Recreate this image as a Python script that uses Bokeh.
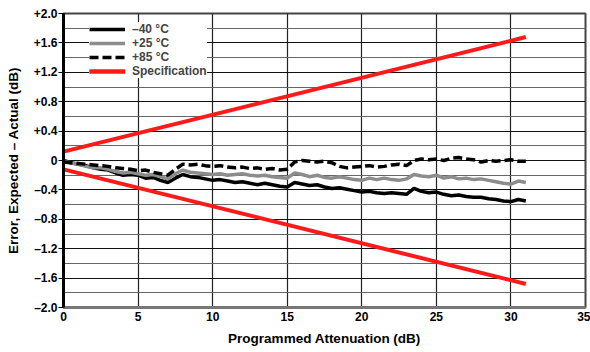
from bokeh.plotting import figure
from bokeh.models import Range1d, FixedTicker, Legend, LegendItem
from bokeh.embed import file_html
from bokeh.resources import INLINE

# ---- data ----
atten = [i * 0.5 for i in range(63)]  # 0 .. 31 dB
err_m40 = [0.0, -0.03, -0.05, -0.07, -0.1, -0.12, -0.13, -0.17, -0.2, -0.19,
           -0.2, -0.24, -0.23, -0.27, -0.3, -0.24, -0.19, -0.22, -0.23, -0.25,
           -0.27, -0.26, -0.28, -0.3, -0.29, -0.31, -0.33, -0.31, -0.33, -0.35,
           -0.36, -0.3, -0.32, -0.34, -0.33, -0.36, -0.38, -0.37, -0.39, -0.41,
           -0.43, -0.42, -0.44, -0.45, -0.44, -0.45, -0.46, -0.38, -0.42, -0.44,
           -0.43, -0.46, -0.48, -0.47, -0.49, -0.5, -0.5, -0.52, -0.53, -0.55,
           -0.56, -0.53, -0.55]
err_p25 = [-0.01, -0.03, -0.05, -0.08, -0.1, -0.1, -0.12, -0.15, -0.17, -0.16,
           -0.18, -0.2, -0.19, -0.22, -0.25, -0.18, -0.13, -0.16, -0.17, -0.18,
           -0.19, -0.18, -0.2, -0.19, -0.18, -0.2, -0.21, -0.2, -0.22, -0.23,
           -0.24, -0.17, -0.19, -0.22, -0.2, -0.23, -0.24, -0.22, -0.24, -0.26,
           -0.27, -0.24, -0.26, -0.24, -0.26, -0.27, -0.25, -0.19, -0.21, -0.22,
           -0.2, -0.24, -0.22, -0.25, -0.24, -0.26, -0.25, -0.27, -0.29, -0.31,
           -0.32, -0.28, -0.3]
err_p85 = [-0.02, -0.03, -0.04, -0.05, -0.06, -0.07, -0.08, -0.1, -0.11, -0.12,
           -0.14, -0.13, -0.16, -0.18, -0.2, -0.12, -0.05, -0.06, -0.05, -0.07,
           -0.08, -0.07, -0.09, -0.1, -0.09, -0.11, -0.1, -0.12, -0.11, -0.13,
           -0.12, -0.02, 0.0, -0.01, -0.02, -0.01, -0.03, -0.08, -0.1, -0.09,
           -0.08, -0.07, -0.09, -0.08, -0.06, -0.05, -0.07, 0.0, 0.02, 0.01,
           0.02, 0.0, 0.03, 0.04, 0.02, 0.01, -0.02, 0.0, -0.01, 0.0,
           0.01, -0.01, -0.01]
spec_x = [0, 31]
spec_upper = [0.12, 1.68]
spec_lower = [-0.12, -1.68]

y_ticks = [-2.0, -1.6, -1.2, -0.8, -0.4, 0.0, 0.4, 0.8, 1.2, 1.6, 2.0]
y_tick_labels = ["–2.0", "–1.6", "–1.2", "–0.8", "–0.4", "0",
                 "+0.4", "+0.8", "+1.2", "+1.6", "+2.0"]
y_minor = [-1.8, -1.4, -1.0, -0.6, -0.2, 0.2, 0.6, 1.0, 1.4, 1.8]
x_ticks = [0, 5, 10, 15, 20, 25, 30, 35]

FONT = "Liberation Sans"

p = figure(width=590, height=352, output_backend="svg", toolbar_location=None,
           x_range=Range1d(0, 35), y_range=Range1d(-2, 2),
           frame_width=522, frame_height=294,
           min_border_left=63, min_border_right=5, min_border_top=13,
           min_border_bottom=45)
p.background_fill_color = "white"
p.border_fill_color = "white"
p.outline_line_color = "#444444"
p.outline_line_width = 2

p.xaxis.ticker = FixedTicker(ticks=x_ticks)
p.yaxis.ticker = FixedTicker(ticks=y_ticks, minor_ticks=y_minor)
p.yaxis.major_label_overrides = {t: l for t, l in zip(y_ticks, y_tick_labels)}

for ax in (p.xaxis[0], p.yaxis[0]):
    ax.major_label_text_font = FONT
    ax.major_label_text_font_style = "bold"
    ax.major_label_text_font_size = "12px"
    ax.major_label_text_color = "black"
    ax.axis_label_text_font = FONT
    ax.axis_label_text_font_style = "bold"
    ax.axis_label_text_font_size = "13.5px"
    ax.axis_label_text_color = "black"
    ax.minor_tick_line_color = None

p.xaxis.axis_label = "Programmed Attenuation (dB)"
p.yaxis.axis_label = "Error, Expected – Actual (dB)"
p.xaxis.major_tick_line_color = None
p.xaxis.major_tick_out = 0
p.xaxis.major_label_standoff = 4
p.xaxis.axis_label_standoff = 7
p.xaxis.axis_line_color = "#777777"
p.xaxis.axis_line_width = 3
p.yaxis.axis_line_color = "black"
p.yaxis.axis_line_width = 3
p.yaxis.major_tick_out = 5
p.yaxis.major_tick_in = 0
p.yaxis.major_tick_line_color = "black"
p.yaxis.major_label_standoff = 1
p.yaxis.axis_label_standoff = 10

p.xgrid.ticker = FixedTicker(ticks=x_ticks)
p.xgrid.grid_line_color = "#222222"
p.xgrid.grid_line_width = 1.2
p.ygrid.grid_line_color = "#111111"
p.ygrid.grid_line_width = 1.2
p.ygrid.minor_grid_line_color = "#666666"
p.ygrid.minor_grid_line_width = 1.2

r_m40 = p.line(atten, err_m40, line_color="black", line_width=3.5)
r_p25 = p.line(atten, err_p25, line_color="#8c8c8c", line_width=3.5)
r_p85 = p.line(atten, err_p85, line_color="black", line_width=3.5, line_dash="9 4")
r_su = p.line(spec_x, spec_upper, line_color="#ff1a1a", line_width=4)
r_sl = p.line(spec_x, spec_lower, line_color="#ff1a1a", line_width=4)

legend = Legend(items=[
    LegendItem(label="–40 °C", renderers=[r_m40]),
    LegendItem(label="+25 °C", renderers=[r_p25]),
    LegendItem(label="+85 °C", renderers=[r_p85]),
    LegendItem(label="Specification", renderers=[r_su, r_sl]),
], location=(26, 229))
legend.label_text_font = FONT
legend.label_text_font_style = "bold"
legend.label_text_font_size = "12px"
legend.glyph_width = 36
legend.glyph_height = 14
legend.label_height = 14
legend.spacing = 0
legend.padding = 6
legend.label_standoff = 7
legend.border_line_color = None
legend.background_fill_color = "white"
legend.background_fill_alpha = 1.0
p.add_layout(legend)

open("out.html", "w").write(file_html(p, INLINE))
